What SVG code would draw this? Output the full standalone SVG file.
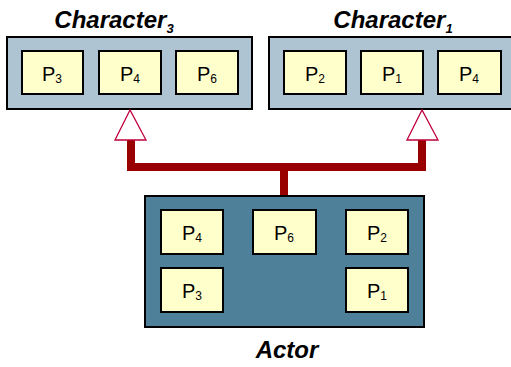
<svg xmlns="http://www.w3.org/2000/svg" width="511" height="367" viewBox="0 0 511 367">
<style>
.outer{fill:#aec4d2;stroke:#000;stroke-width:2}
.actor{fill:#4f8099;stroke:#000;stroke-width:2}
.p{fill:#ffffcc;stroke:#000;stroke-width:2}
.pt{font-family:"Liberation Sans",Arial,sans-serif;font-size:20px;fill:#000;text-anchor:middle}
.sub{font-size:12px}
.title{font-family:"Liberation Sans",Arial,sans-serif;font-size:24px;font-weight:bold;font-style:italic;fill:#000;text-anchor:middle}
.tsub{font-size:13px}
.conn{fill:none;stroke:#990000;stroke-width:8}
.head{fill:#fff;stroke:#c0003c;stroke-width:1.3}
</style>
<rect width="511" height="367" fill="#fff"/>
<g id="character3">
<rect class="outer" x="7" y="37" width="245" height="72"/>
<text class="title" x="114" y="28">Character<tspan class="tsub" dy="5">3</tspan></text>
<rect class="p" x="22" y="51" width="61" height="43"/>
<text class="pt" x="52" y="81">P<tspan class="sub" dy="2">3</tspan></text>
<rect class="p" x="99" y="51" width="62" height="43"/>
<text class="pt" x="130" y="81">P<tspan class="sub" dy="2">4</tspan></text>
<rect class="p" x="176" y="51" width="62" height="43"/>
<text class="pt" x="207" y="81">P<tspan class="sub" dy="2">6</tspan></text>
</g>
<g id="character1">
<rect class="outer" x="269" y="37" width="250" height="72"/>
<text class="title" x="393" y="28">Character<tspan class="tsub" dy="5">1</tspan></text>
<rect class="p" x="284" y="51" width="62" height="43"/>
<text class="pt" x="315" y="81">P<tspan class="sub" dy="2">2</tspan></text>
<rect class="p" x="361" y="51" width="62" height="43"/>
<text class="pt" x="392" y="81">P<tspan class="sub" dy="2">1</tspan></text>
<rect class="p" x="438" y="51" width="63" height="43"/>
<text class="pt" x="469" y="81">P<tspan class="sub" dy="2">4</tspan></text>
</g>
<g id="connectors">
<polyline class="conn" points="131,140 131,167 422,167 422,140"/>
<line class="conn" x1="284" y1="167" x2="284" y2="196"/>
<polygon class="head" points="130,110 115,140 146,140"/>
<polygon class="head" points="422,110 407,140 438,140"/>
</g>
<g id="actor">
<rect class="actor" x="145" y="196" width="279" height="131"/>
<rect class="p" x="161" y="210" width="62" height="44"/>
<text class="pt" x="192" y="240">P<tspan class="sub" dy="2">4</tspan></text>
<rect class="p" x="253" y="210" width="63" height="44"/>
<text class="pt" x="284" y="240">P<tspan class="sub" dy="2">6</tspan></text>
<rect class="p" x="346" y="210" width="62" height="44"/>
<text class="pt" x="377" y="240">P<tspan class="sub" dy="2">2</tspan></text>
<rect class="p" x="161" y="268" width="62" height="44"/>
<text class="pt" x="192" y="298">P<tspan class="sub" dy="2">3</tspan></text>
<rect class="p" x="346" y="268" width="62" height="44"/>
<text class="pt" x="377" y="298">P<tspan class="sub" dy="2">1</tspan></text>
<text class="title" x="287" y="358">Actor</text>
</g>
</svg>
